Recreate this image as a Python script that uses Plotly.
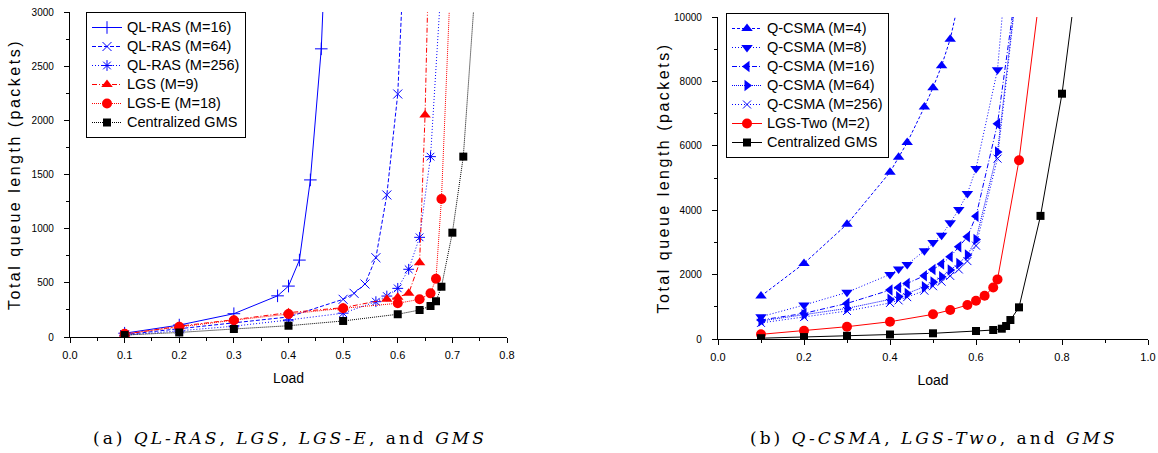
import plotly.graph_objects as go

# ---------------- Left panel data ----------------
ql16_x = [0.1, 0.2, 0.3, 0.38, 0.4, 0.42, 0.44, 0.46, 0.48]
ql16_y = [35, 110, 215, 380, 470, 710, 1450, 2660, 5100]

ql64_x = [0.1, 0.2, 0.3, 0.4, 0.5, 0.52, 0.54, 0.56, 0.58, 0.6, 0.62]
ql64_y = [22, 75, 130, 185, 348, 403, 489, 732, 1311, 2243, 4460]

ql256_x = [0.1, 0.2, 0.3, 0.4, 0.5, 0.56, 0.58, 0.6, 0.62, 0.64, 0.66, 0.68]
ql256_y = [15, 55, 100, 157, 220, 326, 378, 449, 625, 920, 1665, 3300]

lgs_x = [0.1, 0.2, 0.3, 0.4, 0.5, 0.58, 0.6, 0.62, 0.64, 0.65, 0.66]
lgs_y = [25, 100, 160, 225, 271, 348, 367, 403, 686, 2050, 4200]

lgse_x = [0.1, 0.2, 0.3, 0.4, 0.5, 0.6, 0.64, 0.66, 0.67, 0.68, 0.7]
lgse_y = [30, 95, 155, 212, 265, 311, 348, 403, 538, 1274, 3700]

gmsL_x = [0.1, 0.2, 0.3, 0.4, 0.5, 0.6, 0.64, 0.66, 0.67, 0.68, 0.7, 0.72, 0.74]
gmsL_y = [18, 42, 74, 104, 148, 210, 249, 286, 330, 464, 963, 1665, 3100]

# ---------------- Right panel data ----------------
qc4_x = [0.1, 0.2, 0.3, 0.4, 0.42, 0.44, 0.48, 0.5, 0.52, 0.54, 0.56]
qc4_y = [1333, 2347, 3566, 5178, 5643, 6099, 7203, 7804, 8486, 9312, 10500]

qc8_x = [0.1, 0.2, 0.3, 0.4, 0.42, 0.44, 0.48, 0.5, 0.52, 0.54, 0.56, 0.58, 0.6, 0.65, 0.7]
qc8_y = [692, 1054, 1448, 2006, 2171, 2315, 2739, 2997, 3225, 3607, 4021, 4517, 5292, 8362, 16000]

qc16_x = [0.1, 0.2, 0.3, 0.4, 0.42, 0.44, 0.48, 0.5, 0.52, 0.54, 0.56, 0.58, 0.6, 0.65, 0.7]
qc16_y = [589, 796, 1106, 1519, 1602, 1726, 1964, 2160, 2326, 2553, 2862, 3173, 3814, 6687, 11560]

qc64_x = [0.1, 0.2, 0.3, 0.4, 0.42, 0.44, 0.48, 0.5, 0.52, 0.54, 0.56, 0.58, 0.6, 0.65, 0.7]
qc64_y = [560, 750, 951, 1230, 1312, 1416, 1623, 1767, 1933, 2140, 2347, 2605, 3091, 5809, 11600]

qc256_x = [0.1, 0.2, 0.3, 0.4, 0.42, 0.44, 0.48, 0.5, 0.52, 0.54, 0.56, 0.58, 0.6, 0.65, 0.7]
qc256_y = [500, 680, 870, 1120, 1200, 1300, 1500, 1640, 1780, 1960, 2160, 2420, 2900, 5603, 11500]

lgst_x = [0.1, 0.2, 0.3, 0.4, 0.5, 0.54, 0.58, 0.6, 0.62, 0.64, 0.65, 0.7, 0.75]
lgst_y = [145, 258, 382, 537, 766, 899, 1054, 1188, 1343, 1602, 1851, 5550, 10900]

gmsR_x = [0.1, 0.2, 0.3, 0.4, 0.5, 0.6, 0.64, 0.66, 0.67, 0.68, 0.7, 0.75, 0.8, 0.85]
gmsR_y = [25, 60, 100, 140, 177, 248, 279, 320, 403, 589, 983, 3823, 7618, 12800]

left_xticks = [0.0, 0.1, 0.2, 0.3, 0.4, 0.5, 0.6, 0.7, 0.8]
right_xticks = [0.0, 0.2, 0.4, 0.6, 0.8, 1.0]

BLUE = "#0000ff"
RED = "#ff0000"
BLACK = "#000000"

fig = go.Figure()

def legend_name(name):
    return '<span style="font-size:14.5px">' + name + '</span>'

def add(x, y, name, color, dash, symbol, size, xa, ya, legend, mlw=1, width=1):
    fig.add_trace(go.Scatter(
        x=x, y=y, name=legend_name(name), mode="lines+markers",
        line=dict(color=color, dash=dash, width=width),
        marker=dict(symbol=symbol, size=size, color=color,
                    line=dict(color=color, width=mlw)),
        xaxis=xa, yaxis=ya, legend=legend))

# Left
add(ql16_x, ql16_y, "QL-RAS (M=16)", BLUE, "solid", "cross-thin-open", 9, "x", "y", "legend")
add(ql64_x, ql64_y, "QL-RAS (M=64)", BLUE, "4px,2px", "x-thin-open", 9, "x", "y", "legend")
add(ql256_x, ql256_y, "QL-RAS (M=256)", BLUE, "1px,2px", "asterisk-open", 9, "x", "y", "legend")
add(lgs_x, lgs_y, "LGS (M=9)", RED, "5px,2px,1px,2px", "triangle-up", 10, "x", "y", "legend", mlw=0)
add(lgse_x, lgse_y, "LGS-E (M=18)", RED, "1px,1px", "circle", 10, "x", "y", "legend", mlw=0)
add(gmsL_x, gmsL_y, "Centralized GMS", BLACK, "1px,1px", "square", 8, "x", "y", "legend", mlw=0)

# Right
add(qc4_x, qc4_y, "Q-CSMA (M=4)", BLUE, "3px,2px", "triangle-up", 10, "x2", "y2", "legend2", mlw=0)
add(qc8_x, qc8_y, "Q-CSMA (M=8)", BLUE, "1px,2px", "triangle-down", 10, "x2", "y2", "legend2", mlw=0)
add(qc16_x, qc16_y, "Q-CSMA (M=16)", BLUE, "5px,2px,1px,2px", "triangle-left", 10, "x2", "y2", "legend2", mlw=0)
add(qc64_x, qc64_y, "Q-CSMA (M=64)", BLUE, "1px,1px", "triangle-right", 10, "x2", "y2", "legend2", mlw=0)
add(qc256_x, qc256_y, "Q-CSMA (M=256)", BLUE, "1px,2px", "x-thin-open", 8, "x2", "y2", "legend2")
add(lgst_x, lgst_y, "LGS-Two (M=2)", RED, "solid", "circle", 10, "x2", "y2", "legend2", mlw=0)
add(gmsR_x, gmsR_y, "Centralized GMS", BLACK, "solid", "square", 8, "x2", "y2", "legend2", mlw=0)

W, H = 1158, 453
FONT = "Liberation Sans, Arial, sans-serif"

def px_x(p):
    return p / W

def px_y(p):
    return (H - p) / H

axis_common = dict(
    showline=True, linecolor=BLACK, linewidth=1.3, mirror=False,
    ticks="outside", ticklen=5, tickwidth=1, tickcolor=BLACK,
    showgrid=False, zeroline=False, automargin=False,
)

YTITLE = '<span style="letter-spacing:2.5px">Total queue length (packets)</span>'

fig.update_layout(
    template="none",
    width=W, height=H,
    margin=dict(l=0, r=0, t=0, b=0),
    paper_bgcolor="white", plot_bgcolor="white",
    font=dict(family=FONT, color=BLACK),
    xaxis=dict(domain=[px_x(70), px_x(507)], range=[0, 0.8], anchor="y",
               tickvals=left_xticks, tickformat=".1f", ticklabelstandoff=3,
               tickfont=dict(family=FONT, size=11, color=BLACK),
               minor=dict(ticks="outside", ticklen=3, dtick=0.05, tickcolor=BLACK, showgrid=False),
               title=dict(text="Load", font=dict(family=FONT, size=14), standoff=12),
               **axis_common),
    yaxis=dict(domain=[px_y(337), px_y(12)], range=[0, 3000], anchor="x",
               dtick=500, tickformat="d", ticklabelstandoff=8,
               tickfont=dict(family=FONT, size=10, color=BLACK),
               minor=dict(ticks="outside", ticklen=3, dtick=250, tickcolor=BLACK, showgrid=False),
               title=dict(text=YTITLE, font=dict(family=FONT, size=16), standoff=6),
               **axis_common),
    xaxis2=dict(domain=[px_x(718), px_x(1148)], range=[0, 1.0], anchor="y2",
                tickvals=right_xticks, tickformat=".1f", ticklabelstandoff=3,
                tickfont=dict(family=FONT, size=11, color=BLACK),
                minor=dict(ticks="outside", ticklen=3, dtick=0.1, tickcolor=BLACK, showgrid=False),
                title=dict(text="Load", font=dict(family=FONT, size=14), standoff=12),
                **axis_common),
    yaxis2=dict(domain=[px_y(339), px_y(17)], range=[0, 10000], anchor="x2",
                dtick=2000, tickformat="d", ticklabelstandoff=8,
                tickfont=dict(family=FONT, size=10, color=BLACK),
                minor=dict(ticks="outside", ticklen=3, dtick=1000, tickcolor=BLACK, showgrid=False),
                title=dict(text=YTITLE, font=dict(family=FONT, size=16), standoff=0),
                **axis_common),
    legend=dict(x=px_x(86), y=px_y(12), xanchor="left", yanchor="top",
                bordercolor=BLACK, borderwidth=1, bgcolor="white",
                font=dict(family=FONT, size=12, color=BLACK), tracegroupgap=0),
    legend2=dict(x=px_x(726), y=px_y(13), xanchor="left", yanchor="top",
                 bordercolor=BLACK, borderwidth=1, bgcolor="white",
                 font=dict(family=FONT, size=12, color=BLACK), tracegroupgap=0),
    showlegend=True,
)

CAP_FONT = dict(family="DejaVu Serif, Liberation Serif, serif", size=17, color=BLACK)
fig.add_annotation(x=px_x(290), y=px_y(438), xref="paper", yref="paper", showarrow=False,
                   xanchor="center", yanchor="middle", font=CAP_FONT,
                   text='<span style="letter-spacing:3px">(a) <i>QL-RAS</i>, <i>LGS</i>, <i>LGS-E</i>, and <i>GMS</i></span>')
fig.add_annotation(x=px_x(934), y=px_y(438), xref="paper", yref="paper", showarrow=False,
                   xanchor="center", yanchor="middle", font=CAP_FONT,
                   text='<span style="letter-spacing:3px">(b) <i>Q-CSMA</i>, <i>LGS-Two</i>, and <i>GMS</i></span>')

fig.write_html("out.html")
